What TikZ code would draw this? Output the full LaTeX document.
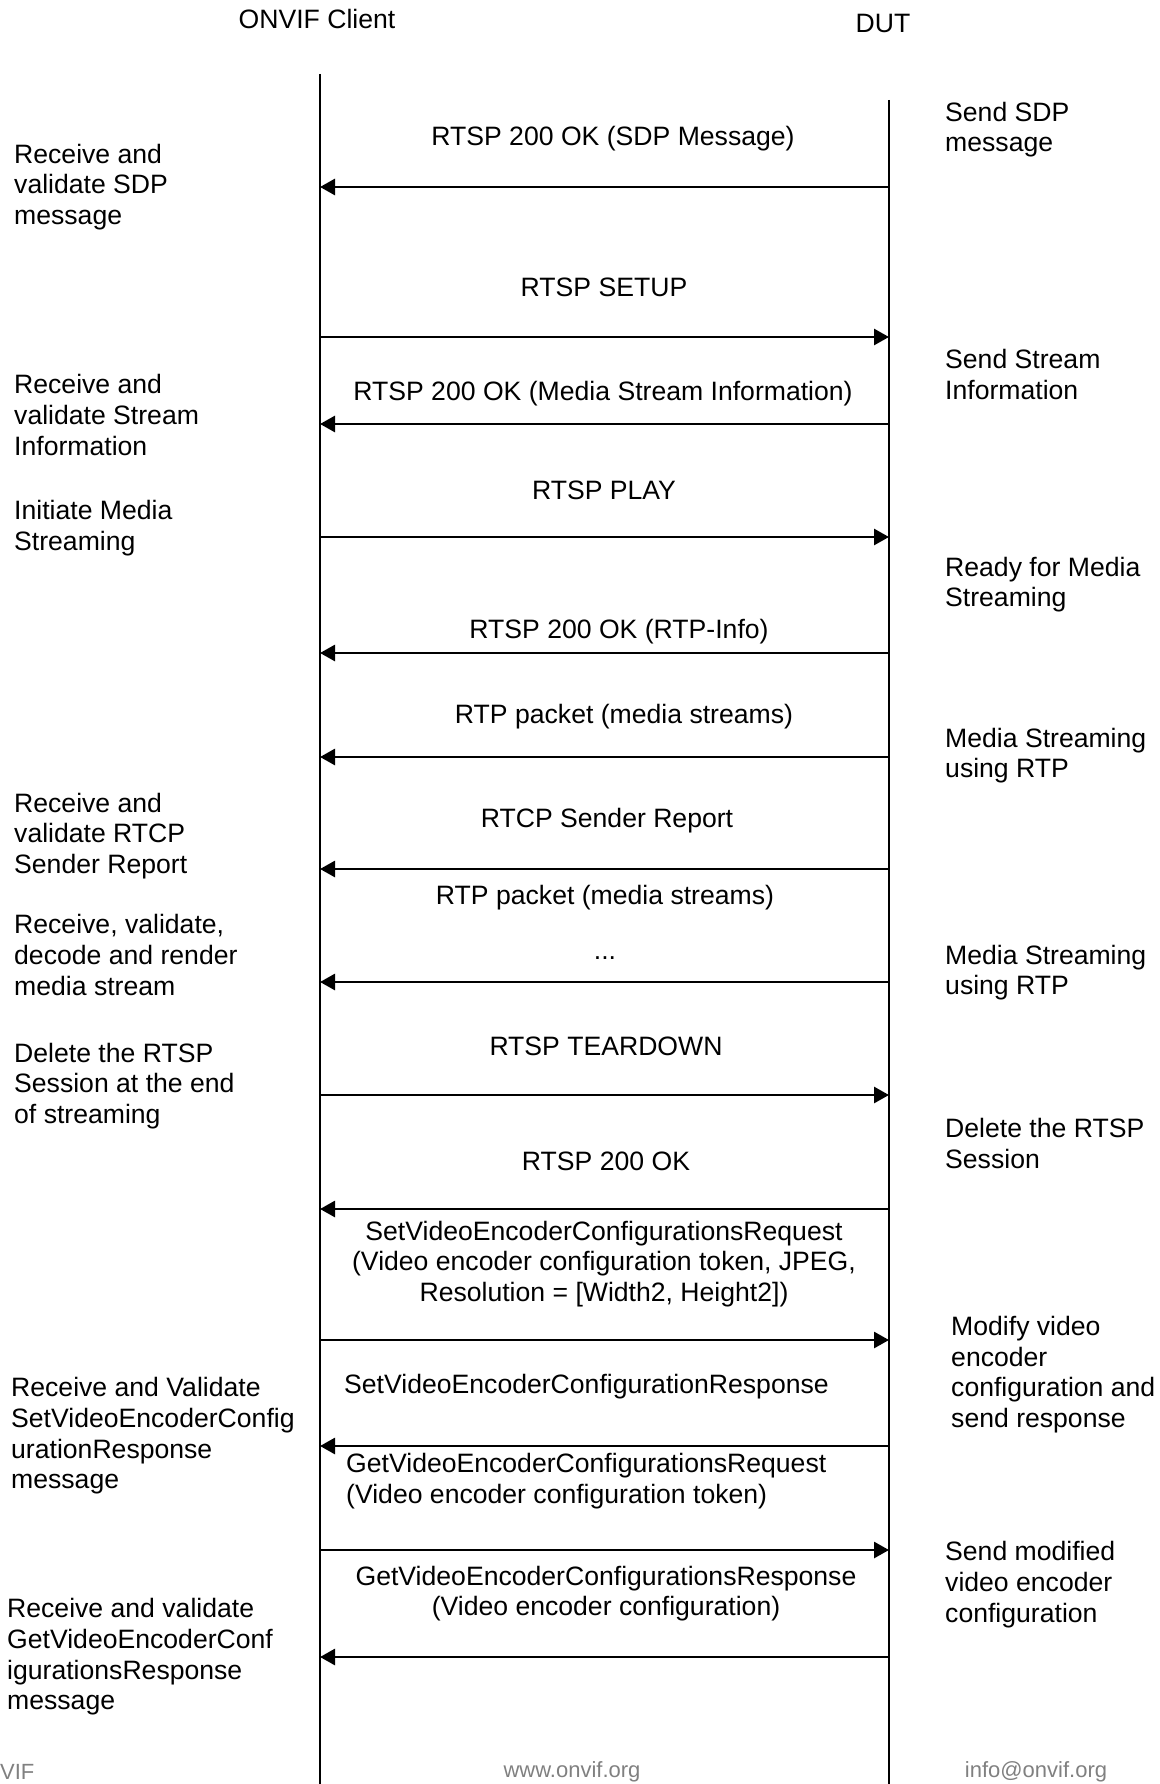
\documentclass[tikz,border=0pt]{standalone}
\usepackage{fontspec}
\setmainfont{Liberation Sans}
\usetikzlibrary{arrows.meta}

\begin{document}
\begin{tikzpicture}[
    x=1pt,
    y=-1pt,
    >={Triangle[length=15pt,width=16pt]},
    lifeline/.style={line width=1.7pt},
    msg/.style={->, line width=2.8pt},
    lbl/.style={inner sep=0pt, font=\fontsize{26.6}{30.7}\selectfont},
    note/.style={lbl, anchor=west, align=left},
    foot/.style={inner sep=0pt, font=\fontsize{22}{26}\selectfont, text=gray}
]

    \useasboundingbox (0,0) rectangle (1159,1784);

    % Capçaleres
    \node[lbl] (client) at (317,19) {ONVIF Client};
    \node[lbl] (dut) at (883,23) {DUT};

    % Línies de vida
    \coordinate (cTop) at (320,74);
    \coordinate (cBot) at (320,1784);
    \coordinate (dTop) at (889,100);
    \coordinate (dBot) at (889,1784);
    \draw[lifeline] (cTop) -- (cBot);
    \draw[lifeline] (dTop) -- (dBot);

    % Punts dels missatges
    \foreach \i/\y in {1/187, 2/337, 3/424, 4/537, 5/653, 6/757, 7/869,
                       8/982, 9/1095, 10/1209, 11/1340, 12/1446, 13/1550, 14/1657} {
        \coordinate (c\i) at (320,\y);
        \coordinate (d\i) at (889,\y);
    }

    % Missatges
    \draw[msg] (d1) -- (c1);
    \draw[msg] (c2) -- (d2);
    \draw[msg] (d3) -- (c3);
    \draw[msg] (c4) -- (d4);
    \draw[msg] (d5) -- (c5);
    \draw[msg] (d6) -- (c6);
    \draw[msg] (d7) -- (c7);
    \draw[msg] (d8) -- (c8);
    \draw[msg] (c9) -- (d9);
    \draw[msg] (d10) -- (c10);
    \draw[msg] (c11) -- (d11);
    \draw[msg] (d12) -- (c12);
    \draw[msg] (c13) -- (d13);
    \draw[msg] (d14) -- (c14);

    % Etiquetes dels missatges
    \node[lbl] (m1) at (613,138.5) {RTSP 200 OK (SDP Message)};
    \node[lbl] (m2) at (604,287) {RTSP SETUP};
    \node[lbl] (m3) at (603,393.5) {RTSP 200 OK (Media Stream Information)};
    \node[lbl] (m4) at (604,490) {RTSP PLAY};
    \node[lbl] (m5) at (619,631.5) {RTSP 200 OK (RTP-Info)};
    \node[lbl] (m6) at (624,716.5) {RTP packet (media streams)};
    \node[lbl] (m7) at (607,820.5) {RTCP Sender Report};
    \node[lbl] (m8) at (605,897.5) {RTP packet (media streams)};
    \node[lbl] (m8b) at (605,958.5) {...};
    \node[lbl] (m9) at (606,1046.5) {RTSP TEARDOWN};
    \node[lbl] (m10) at (606,1161.5) {RTSP 200 OK};
    \node[lbl, align=center] (m11) at (604,1264)
        {SetVideoEncoderConfigurationsRequest\\(Video encoder configuration token, JPEG,\\Resolution = [Width2, Height2])};
    \node[lbl, anchor=west] (m12) at (344,1386.5) {SetVideoEncoderConfigurationResponse};
    \node[note] (m13) at (346,1481)
        {GetVideoEncoderConfigurationsRequest\\(Video encoder configuration token)};
    \node[lbl, align=center] (m14) at (606,1593.5)
        {GetVideoEncoderConfigurationsResponse\\(Video encoder configuration)};

    % Accions del client
    \node[note] (a1) at (14,187) {Receive and\\validate SDP\\message};
    \node[note] (a2) at (14,415) {Receive and\\validate Stream\\Information};
    \node[note] (a3) at (14,528) {Initiate Media\\Streaming};
    \node[note] (a4) at (14,836) {Receive and\\validate RTCP\\Sender Report};
    \node[note] (a5) at (14,955) {Receive, validate,\\decode and render\\media stream};
    \node[note] (a6) at (14,1086) {Delete the RTSP\\Session at the end\\of streaming};
    \node[note] (a7) at (11,1436)
        {Receive and Validate\\SetVideoEncoderConfig\\urationResponse\\message};
    \node[note] (a8) at (7,1657)
        {Receive and validate\\GetVideoEncoderConf\\igurationsResponse\\message};

    % Accions del DUT
    \node[note] (b1) at (945,129.5) {Send SDP\\message};
    \node[note] (b2) at (945,374.5) {Send Stream\\Information};
    \node[note] (b3) at (945,584.5) {Ready for Media\\Streaming};
    \node[note] (b4) at (945,755.5) {Media Streaming\\using RTP};
    \node[note] (b5) at (945,972.5) {Media Streaming\\using RTP};
    \node[note] (b6) at (945,1143.5) {Delete the RTSP\\Session};
    \node[note] (b7) at (951,1374.5)
        {Modify video\\encoder\\configuration and\\send response};
    \node[note] (b8) at (945,1584.5)
        {Send modified\\video encoder\\configuration};

    % Peu
    \node[foot, anchor=west] (f1) at (0,1772) {VIF};
    \node[foot] (f2) at (572,1772) {www.onvif.org};
    \node[foot] (f3) at (1036,1772) {info@onvif.org};

\end{tikzpicture}
\end{document}
